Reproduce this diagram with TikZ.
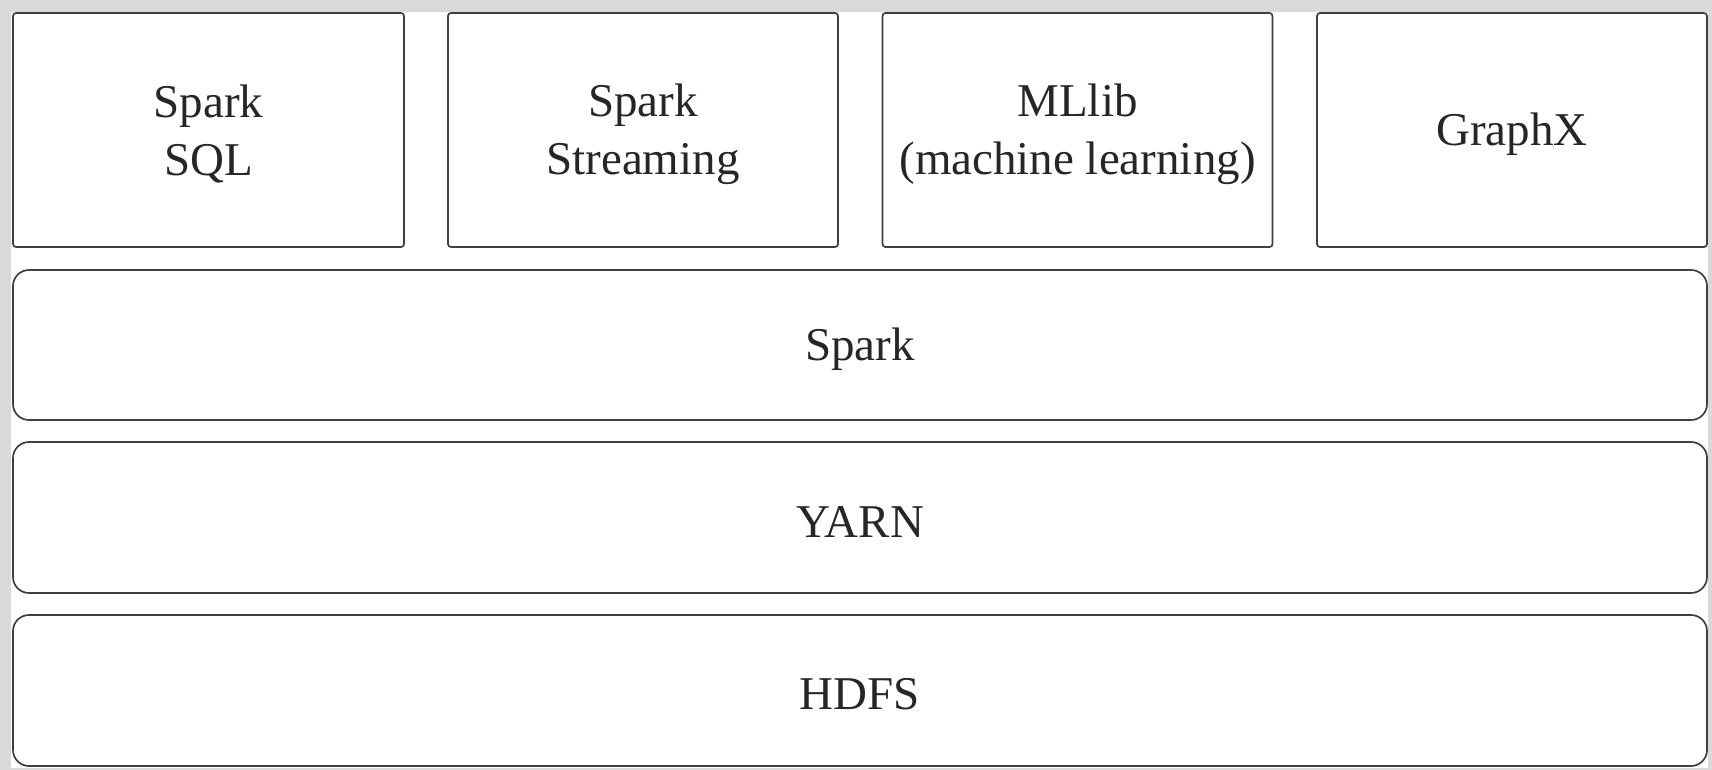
\documentclass[tikz,border=0pt]{standalone}
\usepackage{fontspec}
\setmainfont{Liberation Serif}
\begin{document}
\begin{tikzpicture}[x=1pt,y=-1pt,
  txt/.style={align=center,font=\fontsize{47}{58}\selectfont,text=black!85,inner sep=0pt,yshift=-4pt},
  topbox/.style={draw=black!75,line width=1.7pt,rounded corners=3pt,fill=white,inner sep=0pt,
    minimum height=234pt},
  layer/.style={draw=black!75,line width=1.7pt,rounded corners=16pt,fill=white,inner sep=0pt,
    minimum width=1694pt}]
\useasboundingbox (0,0) rectangle (1712,770);
\fill[black!15] (0,0) rectangle (1712,770);
\fill[white] (11,12) rectangle (1708,768);
\node[topbox,minimum width=391pt,label={[txt]center:Spark\\SQL}] (sql) at (208.5,130) {};
\node[topbox,minimum width=390pt,label={[txt]center:Spark\\Streaming}] (stream) at (643,130) {};
\node[topbox,minimum width=390pt,label={[txt]center:MLlib\\(machine learning)}] (mllib) at (1077.5,130) {};
\node[topbox,minimum width=390pt,label={[txt]center:GraphX}] (graphx) at (1512,130) {};
\node[layer,minimum height=150pt,label={[txt]center:Spark}] (spark) at (860,345) {};
\node[layer,minimum height=151pt,label={[txt]center:YARN}] (yarn) at (860,517.5) {};
\node[layer,minimum height=151pt,label={[txt]center:HDFS}] (hdfs) at (860,690.5) {};
\end{tikzpicture}
\end{document}
